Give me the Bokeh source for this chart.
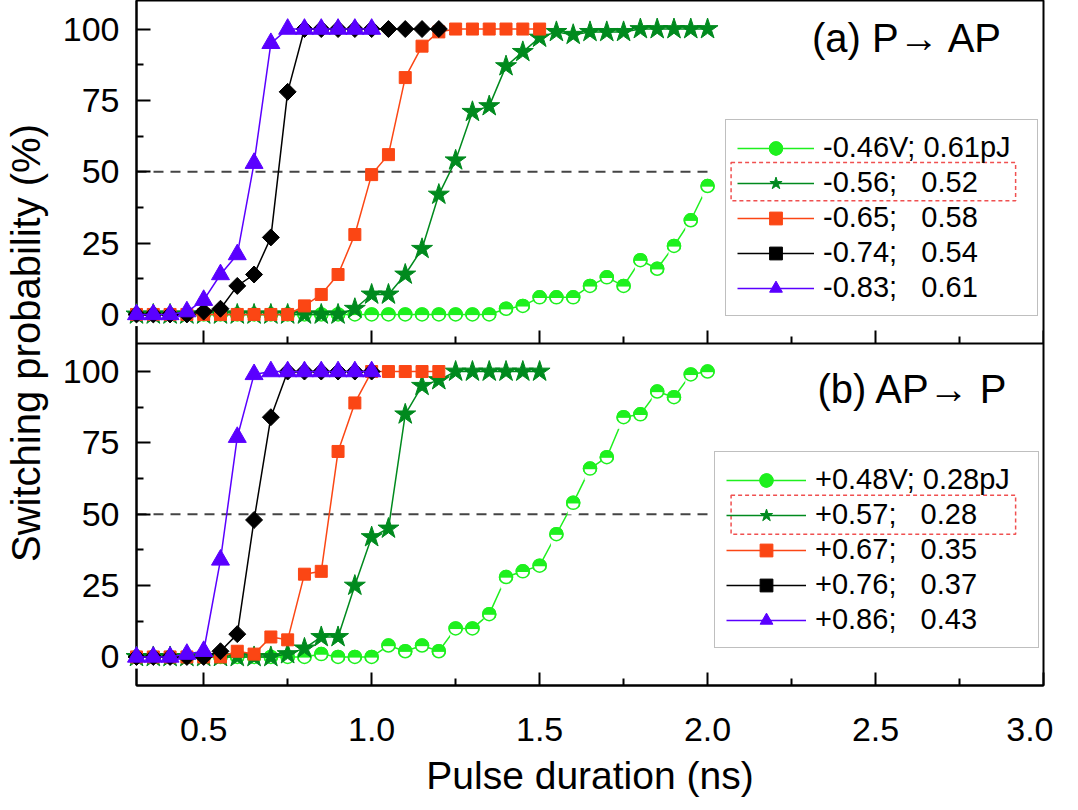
import math
from bokeh.plotting import figure
from bokeh.models import (Range1d, LinearAxis, FixedTicker, Legend, LegendItem,
                          Label, ColumnDataSource)
from bokeh.transform import dodge
from bokeh.embed import file_html
from bokeh.resources import INLINE

FONT = "Liberation Sans"

# ---------------- data ----------------
x_to_200 = [0.30, 0.35, 0.40, 0.45, 0.50, 0.55, 0.60, 0.65, 0.70, 0.75,
            0.80, 0.85, 0.90, 0.95, 1.00, 1.05, 1.10, 1.15, 1.20, 1.25,
            1.30, 1.35, 1.40, 1.45, 1.50, 1.55, 1.60, 1.65, 1.70, 1.75,
            1.80, 1.85, 1.90, 1.95, 2.00]
x_to_150 = x_to_200[:25]
x_to_120 = x_to_200[:19]
x_to_100 = x_to_200[:15]

# (a) P -> AP
a_m046 = [0, 0, 0, 0, 0, 0, 0, 0, 0, 0, 0, 0, 0, 0, 0, 0, 0, 0, 0, 0, 0, 0,
          2, 3, 6, 6, 6, 10, 13, 10, 19, 16, 24, 33, 45]
a_m056 = [0, 0, 0, 0, 0, 0, 0, 0, 0, 0, 0, 0, 0,
          2, 7, 7, 14, 23, 42, 54, 71, 73, 87, 92, 97, 99, 98, 99, 99, 99,
          100, 100, 100, 100, 100]
a_m065 = [0, 0, 0, 0, 0, 0, 0, 0, 0, 0,
          3, 7, 14, 28, 49, 56, 83, 94, 99, 100, 100, 100, 100, 100, 100]
a_m074 = [0, 0, 0, 0, 1, 2, 10, 14, 27, 78,
          100, 100, 100, 100, 100, 100, 100, 100, 100]
a_m083 = [0, 0, 0, 1, 5, 14, 21, 53, 95, 100, 100, 100, 100, 100, 100]

# (b) AP -> P
b_p048 = [0, 0, 0, 0, 0, 0, 0, 0, 0, 0,
          0, 1, 0, 0, 0, 4, 2, 4, 2, 10, 10, 15, 28, 30, 32, 43, 54, 66, 70,
          84, 85, 93, 91, 99, 100]
b_p057 = [0, 0, 0, 0, 0, 0, 0, 0, 0,
          1, 3, 7, 7, 25, 42, 45, 85, 95, 97, 100, 100, 100, 100, 100, 100]
b_p067 = [0, 0, 0, 0, 0, 0, 2, 1, 7, 6, 29, 30, 72, 89, 100, 100, 100, 100, 100]
b_p076 = [0, 0, 0, 0, 0, 2, 8, 48, 84, 100, 100, 100, 100, 100, 100]
b_p086 = [0, 0, 0, 1, 2, 34, 77, 99, 100, 100, 100, 100, 100, 100, 100]

labels_a = ["-0.46V; 0.61pJ", "-0.56;\u00a0\u00a0\u00a00.52", "-0.65;\u00a0\u00a0\u00a00.58",
            "-0.74;\u00a0\u00a0\u00a00.54", "-0.83;\u00a0\u00a0\u00a00.61"]
labels_b = ["+0.48V; 0.28pJ", "+0.57;\u00a0\u00a0\u00a00.28", "+0.67;\u00a0\u00a0\u00a00.35",
            "+0.76;\u00a0\u00a0\u00a00.37", "+0.86;\u00a0\u00a0\u00a00.43"]

ref_x = [0.3, 2.0]
ref_y = [50, 50]

x_ticks = [0.5, 1.0, 1.5, 2.0, 2.5, 3.0]
x_tick_labels = ["0.5", "1.0", "1.5", "2.0", "2.5", "3.0"]
x_minor = [0.75, 1.25, 1.75, 2.25, 2.75]
y_ticks = [0, 25, 50, 75, 100]
y_tick_labels = ["0", "25", "50", "75", "100"]
y_minor = [12.5, 37.5, 62.5, 87.5]

PANEL_OFFSET = 120   # top panel sits 120 units above the bottom panel

# highlight box around the 2nd legend entry (x range, y range per panel)
hl_x = [2.07, 2.917]
hl_y_a = [39.8, 53.2]
hl_y_b = [43.0, 56.7]

# ---------------- styles ----------------
C_LIME = "#1ef01e"
C_DGREEN = "#008a1e"
C_RED = "#fb4614"
C_BLACK = "#000000"
C_BLUE = "#5a00ff"
LVL = "overlay"   # all data marks on one layer, drawn in series order
CIRC = 13         # half-filled circle diameter (px)
MASK_SHIFT = -2.15  # y shift (data units, ~6 px) of the white mask covering the lower half

p = figure(frame_width=907, frame_height=685,
           x_range=Range1d(0.3, 3.0), y_range=Range1d(-10, 230),
           output_backend="svg", toolbar_location=None,
           min_border_left=134, min_border_right=10, min_border_top=0,
           min_border_bottom=0, background_fill_color="white",
           border_fill_color="white")
p.extra_y_ranges = {"top": Range1d(-10 - PANEL_OFFSET, 230 - PANEL_OFFSET)}
p.grid.visible = False
p.outline_line_color = "black"
p.outline_line_width = 2
p.outline_line_alpha = 1

# left axis (both panels)
yax = p.yaxis[0]
all_y = y_ticks + [t + PANEL_OFFSET for t in y_ticks]
all_y_minor = y_minor + [t + PANEL_OFFSET for t in y_minor]
yax.ticker = FixedTicker(ticks=all_y, minor_ticks=all_y_minor)
ov = {}
for t, l in zip(y_ticks, y_tick_labels):
    ov[t] = l
    ov[t + PANEL_OFFSET] = l
yax.major_label_overrides = ov
yax.axis_line_width = 2
yax.major_tick_in = 14
yax.major_tick_out = 0
yax.minor_tick_in = 7
yax.minor_tick_out = 0
yax.major_tick_line_width = 2
yax.minor_tick_line_width = 2
yax.major_label_standoff = 17
yax.major_label_text_font = FONT
yax.major_label_text_font_size = "34px"
yax.major_label_text_color = "black"
yax.axis_label = "Switching probability (%)"
yax.axis_label_text_font = FONT
yax.axis_label_text_font_size = "40px"
yax.axis_label_text_font_style = "normal"
yax.axis_label_text_color = "black"
yax.axis_label_standoff = 12

# bottom axis
xax = p.xaxis[0]
xax.ticker = FixedTicker(ticks=x_ticks, minor_ticks=x_minor)
xax.major_label_overrides = {t: l for t, l in zip(x_ticks, x_tick_labels)}
xax.axis_line_width = 2
xax.major_tick_in = 13
xax.major_tick_out = 0
xax.minor_tick_in = 7
xax.minor_tick_out = 0
xax.major_tick_line_width = 2
xax.minor_tick_line_width = 2
xax.major_label_standoff = 32
xax.major_label_text_font = FONT
xax.major_label_text_font_size = "34px"
xax.major_label_text_color = "black"
xax.axis_label = "Pulse duration (ns)"
xax.axis_label_text_font = FONT
xax.axis_label_text_font_size = "39px"
xax.axis_label_text_font_style = "normal"
xax.axis_label_text_color = "black"
xax.axis_label_standoff = 10

# axis along the boundary between the panels (bottom axis of the top panel)
mid = LinearAxis(fixed_location=110, ticker=FixedTicker(ticks=x_ticks, minor_ticks=x_minor),
                 axis_line_width=2, major_tick_in=13, major_tick_out=0,
                 minor_tick_in=7, minor_tick_out=0, major_tick_line_width=2,
                 minor_tick_line_width=2, major_label_text_alpha=0,
                 major_label_text_font_size="1px", major_label_standoff=0)
p.add_layout(mid, "below")


def half_circles(x, y, color, rng):
    src = ColumnDataSource(dict(x=x, y=y))
    ln = p.line("x", "y", source=src, line_color=color, line_width=1.5,
                y_range_name=rng, level=LVL)
    disc = p.scatter("x", "y", source=src, marker="circle", size=CIRC, fill_color=color,
                     line_color=color, line_width=1.5, y_range_name=rng, level=LVL)
    # white mask over the lower half of each disc
    p.scatter("x", dodge("y", MASK_SHIFT), source=src, marker="square", size=CIRC - 2,
              fill_color="white", line_alpha=0, y_range_name=rng, level=LVL)
    ring = p.scatter("x", "y", source=src, marker="circle", size=CIRC, fill_alpha=0,
                     line_color=color, line_width=1.5, y_range_name=rng, level=LVL)
    return [ln, disc, ring]


def series(x, y, color, marker, size, rng, angle=0.0):
    src = ColumnDataSource(dict(x=x, y=y))
    ln = p.line("x", "y", source=src, line_color=color, line_width=1.5,
                y_range_name=rng, level=LVL)
    mk = p.scatter("x", "y", source=src, marker=marker, size=size, angle=angle,
                   fill_color=color, line_color=color, line_width=1,
                   y_range_name=rng, level=LVL)
    return [ln, mk]


def panel(rng, xs_list, ys_list, labels, leg_loc, glyph_w, label_w, hl_y):
    p.line(ref_x, ref_y, line_color="#444444", line_width=2, line_dash="10 7",
           y_range_name=rng)
    r0 = half_circles(xs_list[0], ys_list[0], C_LIME, rng)
    r1 = series(xs_list[1], ys_list[1], C_DGREEN, "star", 22, rng)
    r2 = series(xs_list[2], ys_list[2], C_RED, "square", 12, rng)
    r3 = series(xs_list[3], ys_list[3], C_BLACK, "square", 12, rng, angle=math.pi / 4)
    r4 = series(xs_list[4], ys_list[4], C_BLUE, "triangle", 18, rng)
    # dashed highlight frame around the second legend entry
    p.quad(left=[hl_x[0]], right=[hl_x[1]], bottom=[hl_y[0]], top=[hl_y[1]],
           fill_alpha=0, line_color="#f05050", line_width=1.5, line_dash="4 3",
           y_range_name=rng)
    items = [LegendItem(label=l, renderers=r) for l, r in zip(labels, [r0, r1, r2, r3, r4])]
    leg = Legend(items=items, location=leg_loc, orientation="vertical",
                 glyph_width=glyph_w, glyph_height=32, label_height=32,
                 label_width=label_w, label_standoff=9, spacing=2, padding=11, margin=0,
                 border_line_color="#808080", border_line_width=1.5,
                 label_text_font=FONT, label_text_font_size="29px",
                 label_text_color="black",
                 background_fill_color="white", background_fill_alpha=0)
    p.add_layout(leg)


panel("top", [x_to_200, x_to_200, x_to_150, x_to_120, x_to_100],
      [a_m046, a_m056, a_m065, a_m074, a_m083], labels_a, (589, 369), 77, 203, hl_y_a)
panel("default", [x_to_200, x_to_150, x_to_120, x_to_100, x_to_100],
      [b_p048, b_p057, b_p067, b_p076, b_p086], labels_b, (578, 37), 80, 212, hl_y_b)

# panel titles
p.add_layout(Label(x=2.311, y=97, text="(a) P\u2192 AP", y_range_name="top",
                   text_font=FONT, text_font_size="40px", text_color="black",
                   text_baseline="alphabetic"))
p.add_layout(Label(x=2.327, y=94, text="(b) AP\u2192 P",
                   text_font=FONT, text_font_size="40px", text_color="black",
                   text_baseline="alphabetic"))

open("out.html", "w").write(file_html(p, INLINE))
